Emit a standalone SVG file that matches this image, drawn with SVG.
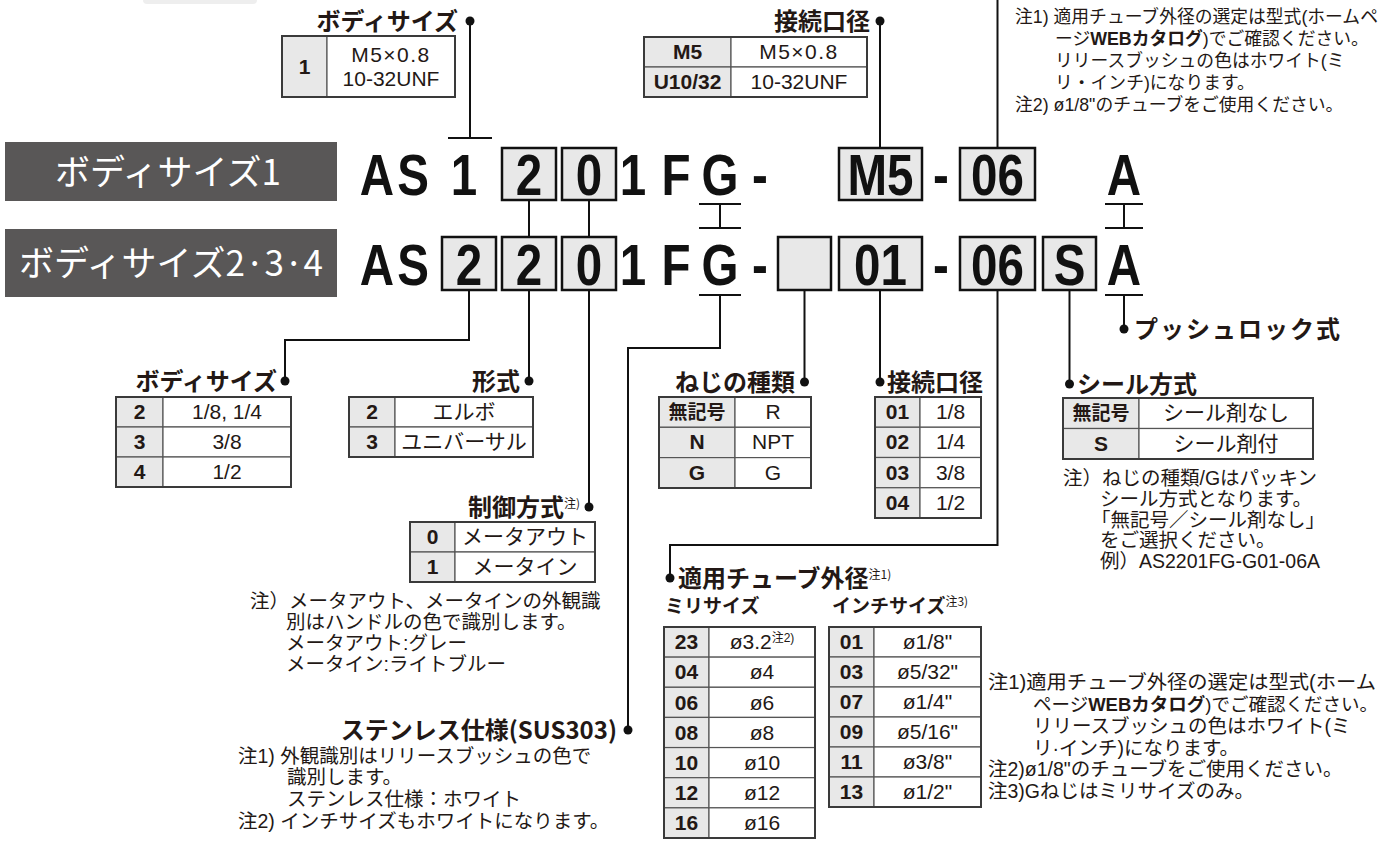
<svg xmlns="http://www.w3.org/2000/svg" width="1383" height="844" viewBox="0 0 1383 844">
<style>
.lbl{font-family:"Noto Sans CJK JP","Liberation Sans",sans-serif;font-weight:bold;font-size:24px;fill:#231815}
.sup{font-size:12px;font-weight:normal}
.note{font-family:"Liberation Sans","Noto Sans CJK JP",sans-serif;font-size:19.5px;fill:#231815}
.tnote{font-family:"Liberation Sans","Noto Sans CJK JP",sans-serif;font-size:17.8px;fill:#231815}
.b{font-weight:bold}
.tv{font-family:"Liberation Sans","Noto Sans CJK JP",sans-serif;font-size:21px;fill:#231815;text-anchor:middle}
.wide{letter-spacing:1.5px}
.tk{font-family:"Liberation Sans","Noto Sans CJK JP",sans-serif;font-size:21px;font-weight:bold;fill:#231815;text-anchor:middle}
.cell{fill:#fff;stroke:#555;stroke-width:1.2}
.key{fill:#e8e8e8;stroke:#555;stroke-width:1.2}
.outer{fill:none;stroke:#3a3a3a;stroke-width:2}
.code{font-family:"Liberation Sans",sans-serif;font-weight:bold;font-size:58px;text-anchor:middle;fill:#111}
.cbox{fill:#e8e8e8;stroke:#111;stroke-width:2.5}
.conn{stroke:#111;stroke-width:2;fill:none}
.dot{fill:#111}
.dark{fill:#595757}
.dt{font-family:"Noto Sans CJK JP",sans-serif;font-size:35px;fill:#fff;text-anchor:middle}
</style>

<rect x="143" y="-10" width="114" height="14" rx="4" fill="#eeeeee"/>

<g id="connectors">
  <g class="conn">
    <line x1="470" y1="21" x2="470" y2="138"/>
    <line x1="448" y1="138" x2="492" y2="138"/>
    <line x1="880" y1="21" x2="880" y2="148"/>
    <line x1="997.5" y1="0" x2="997.5" y2="148"/>
    <line x1="529" y1="200" x2="529" y2="237"/>
    <line x1="589" y1="200" x2="589" y2="237"/>
    <line x1="699" y1="204" x2="741" y2="204"/>
    <line x1="720" y1="204" x2="720" y2="228"/>
    <line x1="699" y1="228" x2="741" y2="228"/>
    <line x1="699" y1="295" x2="741" y2="295"/>
    <polyline points="720,295 720,348 628,348 628,730"/>
    <line x1="1105" y1="204" x2="1143" y2="204"/>
    <line x1="1124" y1="204" x2="1124" y2="228"/>
    <line x1="1105" y1="228" x2="1143" y2="228"/>
    <line x1="1105" y1="295" x2="1143" y2="295"/>
    <line x1="1124" y1="295" x2="1124" y2="329"/>
    <polyline points="469,290 469,340 285,340 285,381"/>
    <line x1="529" y1="290" x2="529" y2="381"/>
    <line x1="589" y1="290" x2="589" y2="507"/>
    <line x1="804.5" y1="290" x2="804.5" y2="382"/>
    <line x1="880" y1="290" x2="880" y2="382"/>
    <polyline points="997.5,290 997.5,545 670,545 670,578"/>
    <line x1="1069.5" y1="290" x2="1069.5" y2="384"/>
  </g>
  <g class="dot">
    <circle cx="470" cy="21" r="4.5"/>
    <circle cx="880" cy="21" r="4.5"/>
    <circle cx="285" cy="381" r="4.5"/>
    <circle cx="529" cy="381" r="4.5"/>
    <circle cx="589" cy="507" r="4.5"/>
    <circle cx="804.5" cy="382" r="4.5"/>
    <circle cx="880" cy="382" r="4.5"/>
    <circle cx="670" cy="578" r="4.5"/>
    <circle cx="1069.5" cy="384" r="4.5"/>
    <circle cx="1124" cy="329" r="4.5"/>
    <circle cx="628" cy="730" r="4.5"/>
  </g>
</g>

<g id="title-size1">
  <rect class="dark" x="5" y="142" width="332" height="59"/>
  <text class="dt" x="168" y="185">ボディサイズ1</text>
</g>
<g id="title-size234">
  <rect class="dark" x="5" y="229" width="332" height="68"/>
  <text class="dt" x="171" y="276">ボディサイズ2·3·4</text>
</g>

<g id="code-row1">
  <rect class="cbox" x="502" y="148" width="54" height="52"/>
  <rect class="cbox" x="562" y="148" width="54" height="52"/>
  <rect class="cbox" x="839" y="148" width="83" height="52"/>
  <rect class="cbox" x="960" y="148" width="75" height="52"/>
  <text class="code" transform="translate(377,195) scale(0.82,1)">A</text>
  <text class="code" transform="translate(413,195) scale(0.82,1)">S</text>
  <text class="code" transform="translate(464,195) scale(0.82,1)">1</text>
  <text class="code" transform="translate(529,195) scale(0.82,1)">2</text>
  <text class="code" transform="translate(589,195) scale(0.82,1)">0</text>
  <text class="code" transform="translate(633,195) scale(0.82,1)">1</text>
  <text class="code" transform="translate(676,195) scale(0.82,1)">F</text>
  <text class="code" transform="translate(720,195) scale(0.82,1)">G</text>
  <text class="code" transform="translate(760,195) scale(0.82,1)">-</text>
  <text class="code" transform="translate(880.5,195) scale(0.82,1)">M5</text>
  <text class="code" transform="translate(941,195) scale(0.82,1)">-</text>
  <text class="code" transform="translate(997.5,195) scale(0.82,1)">06</text>
  <text class="code" transform="translate(1124,195) scale(0.82,1)">A</text>
</g>

<g id="code-row2">
  <rect class="cbox" x="442" y="237" width="54" height="53"/>
  <rect class="cbox" x="502" y="237" width="54" height="53"/>
  <rect class="cbox" x="562" y="237" width="54" height="53"/>
  <rect class="cbox" x="778" y="237" width="53" height="53"/>
  <rect class="cbox" x="839" y="237" width="83" height="53"/>
  <rect class="cbox" x="960" y="237" width="75" height="53"/>
  <rect class="cbox" x="1043" y="237" width="53" height="53"/>
  <text class="code" transform="translate(377,285) scale(0.82,1)">A</text>
  <text class="code" transform="translate(413,285) scale(0.82,1)">S</text>
  <text class="code" transform="translate(469,285) scale(0.82,1)">2</text>
  <text class="code" transform="translate(529,285) scale(0.82,1)">2</text>
  <text class="code" transform="translate(589,285) scale(0.82,1)">0</text>
  <text class="code" transform="translate(633,285) scale(0.82,1)">1</text>
  <text class="code" transform="translate(676,285) scale(0.82,1)">F</text>
  <text class="code" transform="translate(720,285) scale(0.82,1)">G</text>
  <text class="code" transform="translate(760,285) scale(0.82,1)">-</text>
  <text class="code" transform="translate(880.5,285) scale(0.82,1)">01</text>
  <text class="code" transform="translate(941,285) scale(0.82,1)">-</text>
  <text class="code" transform="translate(997.5,285) scale(0.82,1)">06</text>
  <text class="code" transform="translate(1069.5,285) scale(0.82,1)">S</text>
  <text class="code" transform="translate(1124,285) scale(0.82,1)">A</text>
</g>

<g id="top-body-size">
  <text class="lbl" x="458" y="30" text-anchor="end">ボディサイズ</text>
  <rect class="key" x="282" y="36" width="45" height="61"/>
  <rect class="cell" x="327" y="36" width="128" height="61"/>
  <rect class="outer" x="282" y="36" width="173" height="61"/>
  <text class="tk" x="304.5" y="74">1</text>
  <text class="tv wide" x="391" y="62">M5×0.8</text>
  <text class="tv" x="391" y="86">10-32UNF</text>
</g>

<g id="top-port">
  <text class="lbl" x="870" y="30" text-anchor="end">接続口径</text>
  <rect class="key" x="644" y="37" width="87" height="30"/>
  <rect class="key" x="644" y="67" width="87" height="30"/>
  <rect class="cell" x="731" y="37" width="136" height="30"/>
  <rect class="cell" x="731" y="67" width="136" height="30"/>
  <rect class="outer" x="644" y="37" width="223" height="60"/>
  <text class="tk" x="687.5" y="59">M5</text>
  <text class="tk" x="687.5" y="89">U10/32</text>
  <text class="tv wide" x="799" y="59">M5×0.8</text>
  <text class="tv" x="799" y="89">10-32UNF</text>
</g>

<g id="top-note">
  <text class="tnote" x="1015" y="23">注1) 適用チューブ外径の選定は型式(ホームペ</text>
  <text class="tnote" x="1055" y="45">ージ<tspan class="b">WEBカタログ</tspan>)でご確認ください。</text>
  <text class="tnote" x="1055" y="67">リリースブッシュの色はホワイト(ミ</text>
  <text class="tnote" x="1055" y="89">リ・インチ)になります。</text>
  <text class="tnote" x="1015" y="111">注2) ø1/8"のチューブをご使用ください。</text>
</g>

<g id="push-lock">
  <text class="lbl" x="1134" y="338" style="letter-spacing:2px">プッシュロック式</text>
</g>

<g id="body-size">
  <text class="lbl" x="277" y="390" text-anchor="end">ボディサイズ</text>
  <rect class="key" x="116" y="397" width="47" height="30"/>
  <rect class="key" x="116" y="427" width="47" height="30"/>
  <rect class="key" x="116" y="457" width="47" height="30"/>
  <rect class="cell" x="163" y="397" width="128" height="30"/>
  <rect class="cell" x="163" y="427" width="128" height="30"/>
  <rect class="cell" x="163" y="457" width="128" height="30"/>
  <rect class="outer" x="116" y="397" width="175" height="90"/>
  <text class="tk" x="139.5" y="419">2</text>
  <text class="tk" x="139.5" y="449">3</text>
  <text class="tk" x="139.5" y="479">4</text>
  <text class="tv" x="227" y="419">1/8, 1/4</text>
  <text class="tv" x="227" y="449">3/8</text>
  <text class="tv" x="227" y="479">1/2</text>
</g>

<g id="type">
  <text class="lbl" x="520" y="390" text-anchor="end">形式</text>
  <rect class="key" x="349" y="397" width="46" height="30"/>
  <rect class="key" x="349" y="427" width="46" height="30"/>
  <rect class="cell" x="395" y="397" width="138" height="30"/>
  <rect class="cell" x="395" y="427" width="138" height="30"/>
  <rect class="outer" x="349" y="397" width="184" height="60"/>
  <text class="tk" x="372" y="419">2</text>
  <text class="tk" x="372" y="449">3</text>
  <text class="tv" x="464" y="419">エルボ</text>
  <text class="tv" x="464" y="449">ユニバーサル</text>
</g>

<g id="control">
  <text class="lbl" x="580" y="516" text-anchor="end">制御方式<tspan class="sup" dy="-8">注)</tspan></text>
  <rect class="key" x="410" y="522" width="45" height="30"/>
  <rect class="key" x="410" y="552" width="45" height="30"/>
  <rect class="cell" x="455" y="522" width="140" height="30"/>
  <rect class="cell" x="455" y="552" width="140" height="30"/>
  <rect class="outer" x="410" y="522" width="185" height="60"/>
  <text class="tk" x="432.5" y="544">0</text>
  <text class="tk" x="432.5" y="574">1</text>
  <text class="tv" x="525" y="544">メータアウト</text>
  <text class="tv" x="525" y="574">メータイン</text>
  <text class="note" x="250" y="608">注）メータアウト、メータインの外観識</text>
  <text class="note" x="286" y="629">別はハンドルの色で識別します。</text>
  <text class="note" x="286" y="650">メータアウト:グレー</text>
  <text class="note" x="286" y="671">メータイン:ライトブルー</text>
</g>

<g id="stainless">
  <text class="lbl" x="617" y="739" text-anchor="end">ステンレス仕様(SUS303)</text>
  <text class="note" x="238" y="763">注1) 外観識別はリリースブッシュの色で</text>
  <text class="note" x="287" y="784">識別します。</text>
  <text class="note" x="287" y="806">ステンレス仕様：ホワイト</text>
  <text class="note" x="238" y="828">注2) インチサイズもホワイトになります。</text>
</g>

<g id="thread">
  <text class="lbl" x="795" y="391" text-anchor="end">ねじの種類</text>
  <rect class="key" x="659" y="397" width="76" height="30.3"/>
  <rect class="key" x="659" y="427.3" width="76" height="30.3"/>
  <rect class="key" x="659" y="457.6" width="76" height="30.4"/>
  <rect class="cell" x="735" y="397" width="76" height="30.3"/>
  <rect class="cell" x="735" y="427.3" width="76" height="30.3"/>
  <rect class="cell" x="735" y="457.6" width="76" height="30.4"/>
  <rect class="outer" x="659" y="397" width="152" height="91"/>
  <text class="tk" x="697" y="419" style="font-size:19px">無記号</text>
  <text class="tk" x="697" y="449">N</text>
  <text class="tk" x="697" y="480">G</text>
  <text class="tv" x="773" y="419">R</text>
  <text class="tv" x="773" y="449">NPT</text>
  <text class="tv" x="773" y="480">G</text>
</g>

<g id="port">
  <text class="lbl" x="887" y="391">接続口径</text>
  <rect class="key" x="875" y="397" width="45" height="30.25"/>
  <rect class="key" x="875" y="427.25" width="45" height="30.25"/>
  <rect class="key" x="875" y="457.5" width="45" height="30.25"/>
  <rect class="key" x="875" y="487.75" width="45" height="30.25"/>
  <rect class="cell" x="920" y="397" width="61" height="30.25"/>
  <rect class="cell" x="920" y="427.25" width="61" height="30.25"/>
  <rect class="cell" x="920" y="457.5" width="61" height="30.25"/>
  <rect class="cell" x="920" y="487.75" width="61" height="30.25"/>
  <rect class="outer" x="875" y="397" width="106" height="121"/>
  <text class="tk" x="897.5" y="419">01</text>
  <text class="tk" x="897.5" y="449">02</text>
  <text class="tk" x="897.5" y="480">03</text>
  <text class="tk" x="897.5" y="510">04</text>
  <text class="tv" x="950.5" y="419">1/8</text>
  <text class="tv" x="950.5" y="449">1/4</text>
  <text class="tv" x="950.5" y="480">3/8</text>
  <text class="tv" x="950.5" y="510">1/2</text>
</g>

<g id="seal">
  <text class="lbl" x="1077" y="393">シール方式</text>
  <rect class="key" x="1063" y="398" width="76" height="30.5"/>
  <rect class="key" x="1063" y="428.5" width="76" height="30.5"/>
  <rect class="cell" x="1139" y="398" width="174" height="30.5"/>
  <rect class="cell" x="1139" y="428.5" width="174" height="30.5"/>
  <rect class="outer" x="1063" y="398" width="250" height="61"/>
  <text class="tk" x="1101" y="420" style="font-size:19px">無記号</text>
  <text class="tk" x="1101" y="451">S</text>
  <text class="tv" x="1226" y="420">シール剤なし</text>
  <text class="tv" x="1226" y="451">シール剤付</text>
  <text class="note" x="1063" y="485">注）ねじの種類/Gはパッキン</text>
  <text class="note" x="1100" y="506">シール方式となります。</text>
  <text class="note" x="1091" y="527">「無記号／シール剤なし」</text>
  <text class="note" x="1100" y="547">をご選択ください。</text>
  <text class="note" x="1100" y="568">例）AS2201FG-G01-06A</text>
</g>

<g id="tube">
  <text class="lbl" x="678" y="587">適用チューブ外径<tspan class="sup" dy="-8">注1)</tspan></text>
  <text class="lbl" x="665" y="613" style="font-size:19px">ミリサイズ</text>
  <text class="lbl" x="832" y="613" style="font-size:19px">インチサイズ<tspan class="sup" dy="-7">注3)</tspan></text>
  <g>
    <rect class="key" x="664" y="627" width="45" height="30.14"/>
    <rect class="key" x="664" y="657.14" width="45" height="30.14"/>
    <rect class="key" x="664" y="687.28" width="45" height="30.14"/>
    <rect class="key" x="664" y="717.42" width="45" height="30.14"/>
    <rect class="key" x="664" y="747.56" width="45" height="30.14"/>
    <rect class="key" x="664" y="777.7" width="45" height="30.14"/>
    <rect class="key" x="664" y="807.84" width="45" height="30.16"/>
    <rect class="cell" x="709" y="627" width="106" height="30.14"/>
    <rect class="cell" x="709" y="657.14" width="106" height="30.14"/>
    <rect class="cell" x="709" y="687.28" width="106" height="30.14"/>
    <rect class="cell" x="709" y="717.42" width="106" height="30.14"/>
    <rect class="cell" x="709" y="747.56" width="106" height="30.14"/>
    <rect class="cell" x="709" y="777.7" width="106" height="30.14"/>
    <rect class="cell" x="709" y="807.84" width="106" height="30.16"/>
    <rect class="outer" x="664" y="627" width="151" height="211"/>
    <text class="tk" x="686.5" y="649">23</text>
    <text class="tk" x="686.5" y="679">04</text>
    <text class="tk" x="686.5" y="710">06</text>
    <text class="tk" x="686.5" y="740">08</text>
    <text class="tk" x="686.5" y="770">10</text>
    <text class="tk" x="686.5" y="800">12</text>
    <text class="tk" x="686.5" y="830">16</text>
    <text class="tv" x="762" y="649">ø3.2<tspan class="sup" dy="-7">注2)</tspan></text>
    <text class="tv" x="762" y="679">ø4</text>
    <text class="tv" x="762" y="710">ø6</text>
    <text class="tv" x="762" y="740">ø8</text>
    <text class="tv" x="762" y="770">ø10</text>
    <text class="tv" x="762" y="800">ø12</text>
    <text class="tv" x="762" y="830">ø16</text>
  </g>
  <g>
    <rect class="key" x="829" y="627" width="45" height="30"/>
    <rect class="key" x="829" y="657" width="45" height="30"/>
    <rect class="key" x="829" y="687" width="45" height="30"/>
    <rect class="key" x="829" y="717" width="45" height="30"/>
    <rect class="key" x="829" y="747" width="45" height="30"/>
    <rect class="key" x="829" y="777" width="45" height="30"/>
    <rect class="cell" x="874" y="627" width="107" height="30"/>
    <rect class="cell" x="874" y="657" width="107" height="30"/>
    <rect class="cell" x="874" y="687" width="107" height="30"/>
    <rect class="cell" x="874" y="717" width="107" height="30"/>
    <rect class="cell" x="874" y="747" width="107" height="30"/>
    <rect class="cell" x="874" y="777" width="107" height="30"/>
    <rect class="outer" x="829" y="627" width="152" height="180"/>
    <text class="tk" x="851.5" y="649">01</text>
    <text class="tk" x="851.5" y="679">03</text>
    <text class="tk" x="851.5" y="709">07</text>
    <text class="tk" x="851.5" y="739">09</text>
    <text class="tk" x="851.5" y="769">11</text>
    <text class="tk" x="851.5" y="799">13</text>
    <text class="tv" x="927.5" y="649">ø1/8"</text>
    <text class="tv" x="927.5" y="679">ø5/32"</text>
    <text class="tv" x="927.5" y="709">ø1/4"</text>
    <text class="tv" x="927.5" y="739">ø5/16"</text>
    <text class="tv" x="927.5" y="769">ø3/8"</text>
    <text class="tv" x="927.5" y="799">ø1/2"</text>
  </g>
  <text class="note" x="988" y="689" textLength="388" lengthAdjust="spacingAndGlyphs">注1)適用チューブ外径の選定は型式(ホーム</text>
  <text class="note" x="1033" y="711" style="font-size:18.5px">ページ<tspan class="b">WEBカタログ</tspan>)でご確認ください。</text>
  <text class="note" x="1033" y="733">リリースブッシュの色はホワイト(ミ</text>
  <text class="note" x="1033" y="755">リ·インチ)になります。</text>
  <text class="note" x="988" y="776">注2)ø1/8"のチューブをご使用ください。</text>
  <text class="note" x="988" y="798">注3)Gねじはミリサイズのみ。</text>
</g>
</svg>
